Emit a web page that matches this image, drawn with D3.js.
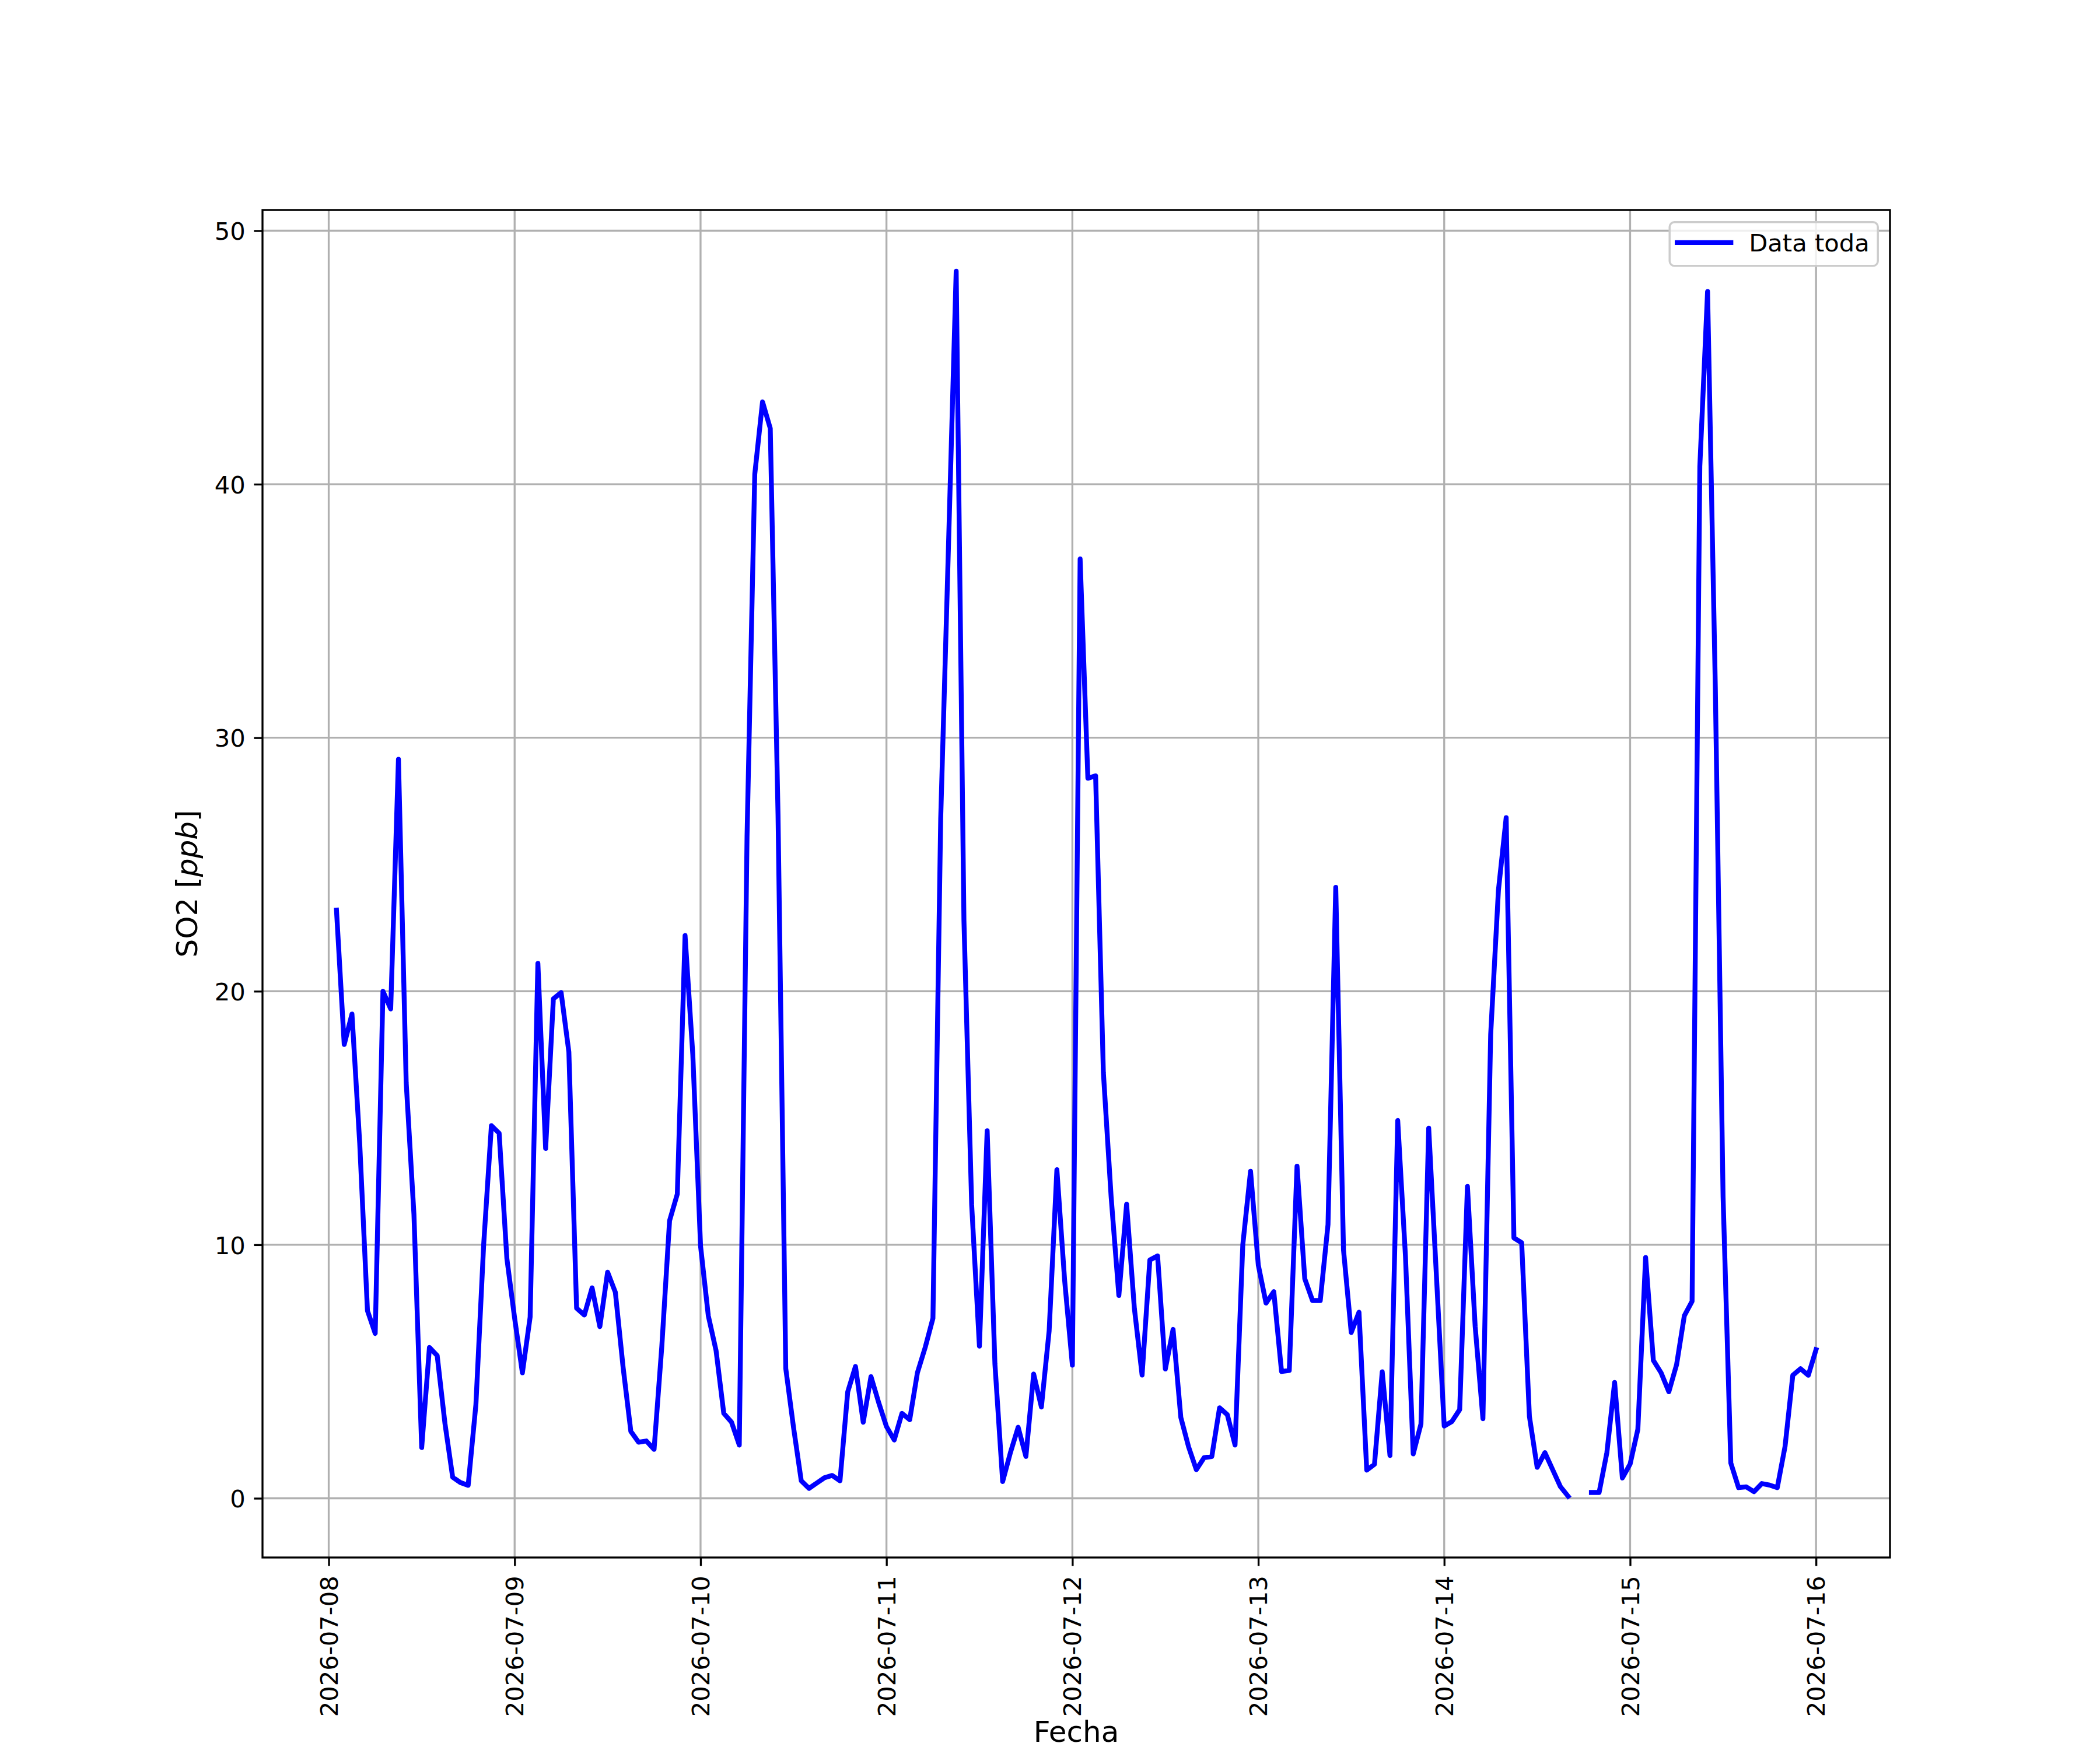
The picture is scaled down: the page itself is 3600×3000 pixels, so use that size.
<!DOCTYPE html>
<html>
<head>
<meta charset="utf-8">
<script src="https://cdn.jsdelivr.net/npm/d3@7"></script>
<style>
  body { margin: 0; background: #ffffff; }
  svg text { font-family: "DejaVu Sans", sans-serif; fill: #000; }
</style>
</head>
<body>
<svg id="so2" width="3600" height="3000"></svg>
<script>
// hourly SO2 readings, first one at 2026-07-08 01:00
const firstHour = Date.UTC(2026, 6, 8, 1);
const so2Jul08 = [23.2, 17.9, 19.1, 14.0, 7.4, 6.5, 20.0, 19.3, 29.15, 16.4, 11.2, 2.0,
                  5.95, 5.63, 2.96, 0.83, 0.62, 0.51, 3.7, 10.0, 14.7, 14.4, 9.45];
const so2Jul09 = [7.1, 4.95, 7.15, 21.1, 13.8, 19.7, 19.95, 17.6, 7.5, 7.23, 8.3, 6.77,
                  8.92, 8.13, 5.17, 2.64, 2.21, 2.26, 1.93, 6.0, 10.95, 12.0, 22.2, 17.5];
const so2Jul10 = [9.95, 7.2, 5.83, 3.35, 3.0, 2.1, 26.1, 40.4, 43.25, 42.2, 26.97, 5.12,
                  2.8, 0.69, 0.39, 0.6, 0.81, 0.9, 0.69, 4.2, 5.2, 3.0, 4.8, 3.77];
const so2Jul11 = [2.83, 2.3, 3.35, 3.1, 4.96, 5.95, 7.1, 26.8, 37.5, 48.4, 22.8, 11.57,
                  6.0, 14.5, 5.3, 0.66, 1.8, 2.8, 1.65, 4.9, 3.6, 6.6, 12.96, 8.6];
const so2Jul12 = [5.25, 37.05, 28.4, 28.5, 16.8, 11.9, 8.0, 11.6, 7.5, 4.86, 9.4, 9.56,
                  5.1, 6.66, 3.19, 2.03, 1.13, 1.6, 1.65, 3.57, 3.3, 2.1, 10.0, 12.9];
const so2Jul13 = [9.2, 7.7, 8.15, 5.0, 5.04, 13.1, 8.66, 7.8, 7.8, 10.8, 24.1, 9.8,
                  6.54, 7.34, 1.11, 1.34, 4.99, 1.69, 14.9, 9.54, 1.75, 2.93, 14.6, 8.75];
const so2Jul14 = [2.85, 3.03, 3.5, 12.3, 6.77, 3.14, 18.3, 23.98, 26.85, 10.27, 10.08, 3.23,
                  1.22, 1.8, 1.13, 0.46, 0.08, null, null, 0.23, 0.23, 1.8, 4.57, 0.8];
const so2Jul15 = [1.35, 2.72, 9.5, 5.44, 4.95, 4.2, 5.27, 7.2, 7.77, 40.7, 47.6, 32.0,
                  11.9, 1.39, 0.42, 0.45, 0.26, 0.58, 0.52, 0.42, 2.04, 4.85, 5.11, 4.85];
const so2Jul16 = [5.86];

const yTickValues = [0, 10, 20, 30, 40, 50];
const seriesName = "Data toda";
const xLabel = "Fecha";

let svg = d3.select("svg#so2");
let svg_width = +svg.attr("width");
let svg_height = +svg.attr("height");
let margin = { top: 360, right: 360, bottom: 330, left: 450 };
let chartWidth = svg_width - margin.left - margin.right;
let chartHeight = svg_height - margin.top - margin.bottom;

const fontSize = 41.67;   // 10pt at 300 dpi
const labelSize = 50;     // 12pt
const tickLen = 14.6;
const thin = 3.33;

let so2 = [].concat(so2Jul08, so2Jul09, so2Jul10, so2Jul11, so2Jul12,
                    so2Jul13, so2Jul14, so2Jul15, so2Jul16);
let data = so2.map((v, i) => ({ date: new Date(firstHour + i * 3600 * 1000), value: v }));

// scales with matplotlib style 5% padding
let tExt = d3.extent(data, d => d.date.getTime());
let tPad = (tExt[1] - tExt[0]) * 0.05;
let xScale = d3.scaleUtc()
    .domain([new Date(tExt[0] - tPad), new Date(tExt[1] + tPad)])
    .range([0, chartWidth]);

let vals = data.filter(d => d.value !== null);
let vMin = d3.min(vals, d => d.value);
let vMax = d3.max(vals, d => d.value);
let vPad = (vMax - vMin) * 0.05;
let yScale = d3.scaleLinear()
    .domain([vMin - vPad, vMax + vPad])
    .range([chartHeight, 0]);

let plot = svg.append("g")
    .attr("transform", "translate(" + margin.left + "," + margin.top + ")");

// grid
let dayTicks = xScale.ticks(d3.utcDay.every(1));
plot.append("g").attr("class", "grid")
    .selectAll("line.v").data(dayTicks).enter().append("line")
    .attr("x1", d => xScale(d)).attr("x2", d => xScale(d))
    .attr("y1", 0).attr("y2", chartHeight)
    .attr("stroke", "#b0b0b0").attr("stroke-width", thin);
plot.append("g").attr("class", "grid")
    .selectAll("line.h").data(yTickValues).enter().append("line")
    .attr("x1", 0).attr("x2", chartWidth)
    .attr("y1", d => yScale(d)).attr("y2", d => yScale(d))
    .attr("stroke", "#b0b0b0").attr("stroke-width", thin);

// the series
let so2Line = d3.line()
    .defined(d => d.value !== null)
    .x(d => xScale(d.date))
    .y(d => yScale(d.value));
plot.append("path")
    .datum(data)
    .attr("d", so2Line)
    .attr("fill", "none")
    .attr("stroke", "#0000ff")
    .attr("stroke-width", 8.33)
    .attr("stroke-linejoin", "round")
    .attr("stroke-linecap", "square");

// x axis
let bottomAxis = d3.axisBottom(xScale)
    .tickValues(dayTicks)
    .tickFormat(d3.utcFormat("%Y-%m-%d"))
    .tickSize(tickLen)
    .tickPadding(tickLen);
let gx = plot.append("g")
    .attr("class", "x axis")
    .attr("transform", "translate(0," + chartHeight + ")")
    .call(bottomAxis);
gx.select(".domain").remove();
gx.selectAll(".tick line").attr("stroke", "#000").attr("stroke-width", thin);
gx.selectAll(".tick text")
    .attr("font-size", fontSize)
    .attr("transform", "rotate(-90)")
    .attr("text-anchor", "end")
    .attr("x", -(tickLen * 2 + 2))
    .attr("y", 0)
    .attr("dy", "0.35em");

// y axis
let leftAxis = d3.axisLeft(yScale)
    .tickValues(yTickValues)
    .tickFormat(d3.format("d"))
    .tickSize(tickLen)
    .tickPadding(tickLen);
let gy = plot.append("g")
    .attr("class", "y axis")
    .call(leftAxis);
gy.select(".domain").remove();
gy.selectAll(".tick line").attr("stroke", "#000").attr("stroke-width", thin);
gy.selectAll(".tick text")
    .attr("font-size", fontSize)
    .attr("dy", "0.365em");

// spines
plot.append("rect")
    .attr("width", chartWidth).attr("height", chartHeight)
    .attr("fill", "none").attr("stroke", "#000").attr("stroke-width", thin);

// axis labels
svg.append("text")
    .attr("x", margin.left + chartWidth / 2)
    .attr("y", 2986)
    .attr("text-anchor", "middle")
    .attr("font-size", labelSize)
    .text(xLabel);

let ylab = svg.append("text")
    .attr("transform", "translate(338," + (margin.top + chartHeight / 2) + ") rotate(-90)")
    .attr("text-anchor", "middle")
    .attr("font-size", labelSize);
ylab.append("tspan").text("SO2 [");
ylab.append("tspan").attr("font-style", "italic").text("ppb");
ylab.append("tspan").text("]");

// legend
let legW = 357, legH = 75;
let legX = chartWidth - 20.8 - legW, legY = 20.8;
let legend = plot.append("g").attr("transform", "translate(" + legX + "," + legY + ")");
legend.append("rect")
    .attr("width", legW).attr("height", legH)
    .attr("rx", 8.3).attr("ry", 8.3)
    .attr("fill", "#fff").attr("fill-opacity", 0.8)
    .attr("stroke", "#cccccc").attr("stroke-width", 3.5);
legend.append("line")
    .attr("x1", 13).attr("x2", 105)
    .attr("y1", 35).attr("y2", 35)
    .attr("stroke", "#0000ff").attr("stroke-width", 8.33)
    .attr("stroke-linecap", "square");
legend.append("text")
    .attr("x", 136).attr("y", 50)
    .attr("font-size", fontSize)
    .text(seriesName);
</script>
</body>
</html>
